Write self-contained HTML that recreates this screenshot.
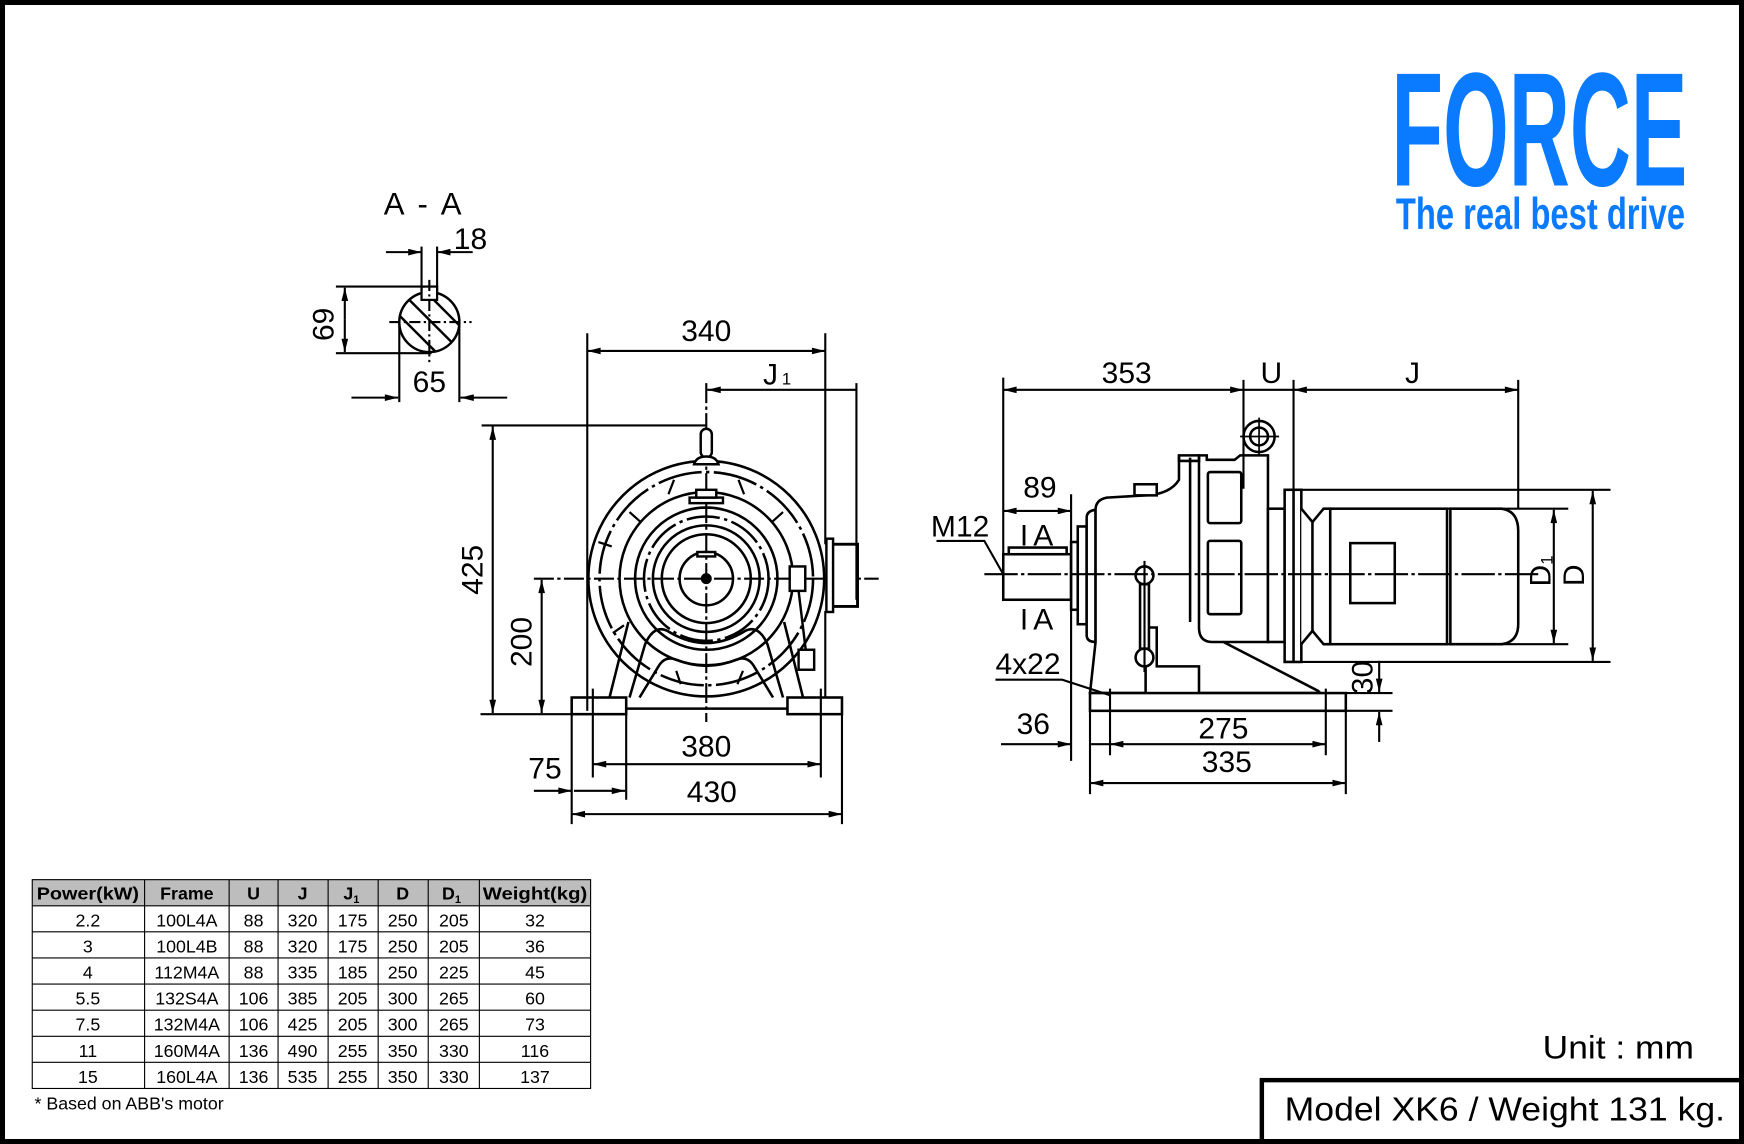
<!DOCTYPE html>
<html><head><meta charset="utf-8"><style>
html,body{margin:0;padding:0;background:#fff;}
svg{display:block;}
text{font-family:"Liberation Sans",Arial,sans-serif;fill:#000;}
</style></head><body>
<svg width="1744" height="1144" viewBox="0 0 1568 1030" preserveAspectRatio="none" xmlns="http://www.w3.org/2000/svg">
<defs>
<marker id="a" viewBox="0 0 12 6" refX="12" refY="3" markerWidth="13" markerHeight="6" markerUnits="userSpaceOnUse" orient="auto-start-reverse"><path d="M0,0 L12,3 L0,6 z" fill="#000"/></marker>
<clipPath id="cc"><circle cx="386" cy="290" r="27"/></clipPath>
</defs>
<rect x="0" y="0" width="1568" height="1030" fill="#fff"/>
<rect x="0" y="0" width="1568" height="1030" fill="none" stroke="#000" stroke-width="9"/>

<!-- Logo -->
<text x="1251" y="167" font-size="146" font-weight="bold" textLength="266" lengthAdjust="spacingAndGlyphs" style="fill:#0a7aff">FORCE</text>
<text x="1255" y="206" font-size="40" font-weight="bold" textLength="260" lengthAdjust="spacingAndGlyphs" style="fill:#0a7aff">The real best drive</text>

<g fill="none" stroke="#000" stroke-width="1.9">
<!-- A-A section -->
<circle cx="386" cy="290" r="27" stroke-width="2.2"/>
<g clip-path="url(#cc)" stroke-width="2.2">
<line x1="350" y1="275" x2="395" y2="320"/><line x1="360" y1="262" x2="410" y2="312"/><line x1="375" y1="255" x2="420" y2="300"/>
</g>
<rect x="379" y="258" width="14" height="12" fill="#fff" stroke-width="2"/>
<line x1="386" y1="252" x2="386" y2="326" stroke-dasharray="10,3,2,3"/>
<line x1="350" y1="290" x2="424" y2="290" stroke-dasharray="10,3,2,3"/>
<line x1="379" y1="222" x2="379" y2="262"/><line x1="393" y1="222" x2="393" y2="262"/>
<line x1="347" y1="227" x2="379" y2="227" marker-end="url(#a)"/><line x1="425" y1="227" x2="393" y2="227" marker-end="url(#a)"/>
<line x1="302" y1="258" x2="382" y2="258"/><line x1="302" y1="318" x2="388" y2="318"/>
<line x1="310" y1="288" x2="310" y2="259" marker-end="url(#a)"/><line x1="310" y1="288" x2="310" y2="317" marker-end="url(#a)"/>
<line x1="359" y1="292" x2="359" y2="362"/><line x1="413" y1="292" x2="413" y2="362"/>
<line x1="316" y1="358" x2="358" y2="358" marker-end="url(#a)"/><line x1="456" y1="358" x2="414" y2="358" marker-end="url(#a)"/>

<!-- Front view -->
<g stroke-width="2.3">
<circle cx="635" cy="521" r="106"/>
<circle cx="635" cy="521" r="96" stroke-dasharray="40,4,3,4"/>
<circle cx="635" cy="521" r="78"/>
<circle cx="635" cy="521" r="64"/>
<circle cx="635" cy="521" r="56" stroke-dasharray="30,4,3,4"/>
<circle cx="635" cy="521" r="48"/>
<circle cx="635" cy="521" r="40"/>
<circle cx="635" cy="521" r="24"/>
</g>
<circle cx="635" cy="521" r="4" fill="#000"/>
<line x1="480" y1="521" x2="790" y2="521" stroke-dasharray="18,3,3,3"/>
<line x1="635" y1="345" x2="635" y2="650" stroke-dasharray="18,3,3,3"/>
<g stroke-width="2">
<line x1="664" y1="432" x2="669" y2="445"/><line x1="606" y1="432" x2="601" y2="445"/>
<line x1="566" y1="461" x2="576" y2="470"/><line x1="704" y1="461" x2="694" y2="470"/>
<line x1="551" y1="570" x2="561" y2="563"/><line x1="612" y1="616" x2="608" y2="604"/><line x1="663" y1="616" x2="668" y2="604"/>
<line x1="538" y1="488" x2="550" y2="492"/>
</g>
<rect x="630" y="386" width="10" height="26" rx="5" fill="#fff" stroke-width="2.2"/>
<path d="M624,418 Q626,411 635,411 Q644,411 646,418 Z" fill="#fff" stroke-width="2.2"/>
<rect x="620" y="448" width="30" height="5" fill="#fff" stroke-width="2.2"/>
<rect x="626" y="441" width="18" height="7" fill="#fff" stroke-width="2.2"/>
<rect x="627" y="497" width="16" height="4" fill="#fff" stroke-width="2.2"/>
<g stroke-width="2.3" fill="none">
<path d="M548,628 L565,560"/><path d="M722,628 L705,560"/>
<path d="M566,628 L580,580 Q588,562 600,568 Q635,590 670,568 Q682,562 690,580 L704,628"/>
<path d="M575,628 L592,600 Q598,590 608,594 Q635,605 662,594 Q672,590 678,600 L695,628"/>
<line x1="563" y1="638" x2="708" y2="638"/>
</g>
<rect x="514" y="628" width="49" height="15" fill="#fff" stroke-width="2.3"/>
<rect x="708" y="628" width="49" height="15" fill="#fff" stroke-width="2.3"/>
<rect x="748" y="490" width="23" height="56" fill="#fff" stroke-width="2.6"/>
<rect x="743" y="485" width="6" height="66" fill="#fff" stroke-width="2.2"/>
<rect x="710" y="510" width="14" height="22" fill="#fff" stroke-width="2.2"/>
<line x1="718" y1="532" x2="725" y2="590" stroke-width="2.2"/>
<rect x="718" y="585" width="14" height="18" fill="#fff" stroke-width="2.2"/>
<!-- front dims -->
<line x1="528" y1="300" x2="528" y2="640"/><line x1="742" y1="300" x2="742" y2="490"/><line x1="742" y1="550" x2="742" y2="628"/>
<line x1="528" y1="316" x2="742" y2="316" marker-start="url(#a)" marker-end="url(#a)"/>
<line x1="770" y1="345" x2="770" y2="540"/>
<line x1="770" y1="351" x2="636" y2="351" marker-end="url(#a)"/>
<line x1="433" y1="383" x2="635" y2="383"/>
<line x1="443" y1="384" x2="443" y2="642" marker-start="url(#a)" marker-end="url(#a)"/>
<line x1="487" y1="522" x2="487" y2="642" marker-start="url(#a)" marker-end="url(#a)"/>
<line x1="432" y1="643" x2="514" y2="643"/>
<line x1="533" y1="620" x2="533" y2="700"/><line x1="738" y1="620" x2="738" y2="700"/>
<line x1="533" y1="688" x2="738" y2="688" marker-start="url(#a)" marker-end="url(#a)"/>
<line x1="514" y1="643" x2="514" y2="742"/><line x1="757" y1="643" x2="757" y2="742"/><line x1="563" y1="643" x2="563" y2="720"/>
<line x1="514" y1="733" x2="757" y2="733" marker-start="url(#a)" marker-end="url(#a)"/>
<line x1="480" y1="712" x2="514" y2="712" marker-end="url(#a)"/>
<line x1="516" y1="712" x2="562" y2="712" marker-end="url(#a)"/>

<!-- Side view -->
<g stroke-width="2.3">
<rect x="902" y="499" width="61" height="41" fill="#fff"/>
<rect x="907" y="493" width="52" height="6" fill="#fff"/>
<rect x="963" y="488" width="6" height="61" fill="#fff"/>
<rect x="969" y="474" width="8" height="88" fill="#fff"/>
<path d="M977,466 Q977,460 985,459 L985,578 Q977,578 977,572 Z" fill="#fff"/>
<path d="M985,459 Q985,450 995,448 L1030,446 Q1052,445 1060,432 L1060,410 L1078,410 L1078,565 Q1078,578 1090,578 L1100,578 L1185,622 L1187,624 L1078,624 L1078,600 L1040,600 L1040,565 L1030,565 L1030,624 L980,624 L985,578 Z" fill="#fff"/>
<rect x="1020" y="436" width="20" height="10" fill="#fff"/>
<path d="M1060,410 L1060,415 L1078,415 L1078,410 L1085,410 L1085,414 L1110,414 L1115,410 L1140,410 L1140,578 L1100,578"/>
<line x1="1070" y1="412" x2="1070" y2="560"/>
<rect x="1086" y="425" width="30" height="46" rx="2" fill="#fff"/>
<rect x="1086" y="487" width="30" height="66" rx="2" fill="#fff"/>
<circle cx="1132" cy="393" r="14" fill="#fff"/><circle cx="1132" cy="393" r="8" fill="#fff"/>
<line x1="1115" y1="393" x2="1150" y2="393" stroke-width="1.5"/><line x1="1132" y1="376" x2="1132" y2="410" stroke-width="1.5"/>
<rect x="1140" y="458" width="15" height="120" fill="#fff"/>
<rect x="1155" y="441" width="15" height="155" fill="#fff"/>
<line x1="1163" y1="441" x2="1163" y2="596"/>
<path d="M1170,458 L1180,470 L1180,568 L1170,580" fill="#fff"/>
<path d="M1180,470 L1190,458 L1196,458 L1196,580 L1190,580 L1180,568"/>
<rect x="1196" y="458" width="105" height="122" fill="#fff"/>
<path d="M1304,458 L1350,458 Q1365,460 1365,478 L1365,562 Q1365,578 1350,580 L1304,580 Z" fill="#fff"/>
<rect x="1214" y="489" width="40" height="54" fill="#fff"/>
<circle cx="1029" cy="518" r="8" fill="#fff"/><circle cx="1029" cy="592" r="8" fill="#fff"/>
<rect x="1025" y="526" width="8" height="58" fill="#fff"/>
<rect x="980" y="624" width="230" height="16" fill="#fff"/>
</g>
<line x1="885" y1="517" x2="1385" y2="517" stroke-dasharray="30,3,3,3"/>
<line x1="1029" y1="505" x2="1029" y2="605"/>
<!-- side dims -->
<line x1="902" y1="340" x2="902" y2="499"/>
<line x1="1118" y1="342" x2="1118" y2="440"/><line x1="1163" y1="342" x2="1163" y2="441"/>
<line x1="1365" y1="342" x2="1365" y2="458"/>
<line x1="902" y1="351" x2="1118" y2="351" marker-start="url(#a)" marker-end="url(#a)"/>
<line x1="1118" y1="351" x2="1165" y2="351"/>
<line x1="1163" y1="351" x2="1365" y2="351" marker-start="url(#a)" marker-end="url(#a)"/>
<line x1="902" y1="460" x2="963" y2="460" marker-start="url(#a)" marker-end="url(#a)"/>
<line x1="963" y1="445" x2="963" y2="685"/>
<polyline points="842,487 885,487 902,517"/>
<polyline points="895,612 955,612 998,626"/>
<line x1="1155" y1="441" x2="1448" y2="441"/><line x1="1155" y1="596" x2="1448" y2="596"/>
<line x1="1300" y1="458" x2="1410" y2="458"/><line x1="1300" y1="580" x2="1410" y2="580"/>
<line x1="1432" y1="442" x2="1432" y2="595" marker-start="url(#a)" marker-end="url(#a)"/>
<line x1="1397" y1="459" x2="1397" y2="579" marker-start="url(#a)" marker-end="url(#a)"/>
<line x1="1210" y1="624" x2="1252" y2="624"/><line x1="1210" y1="640" x2="1252" y2="640"/>
<line x1="1240" y1="595" x2="1240" y2="623" marker-end="url(#a)"/>
<line x1="1240" y1="668" x2="1240" y2="641" marker-end="url(#a)"/>
<line x1="998" y1="620" x2="998" y2="680"/><line x1="1192" y1="620" x2="1192" y2="680"/>
<line x1="980" y1="640" x2="980" y2="715"/><line x1="1210" y1="640" x2="1210" y2="715"/>
<line x1="998" y1="670" x2="1192" y2="670" marker-start="url(#a)" marker-end="url(#a)"/>
<line x1="980" y1="705" x2="1210" y2="705" marker-start="url(#a)" marker-end="url(#a)"/>
<line x1="900" y1="670" x2="963" y2="670" marker-end="url(#a)"/>
<line x1="998" y1="670" x2="981" y2="670"/>
</g>

<!-- labels -->
<g font-size="27">
<text x="345" y="193" font-size="28" textLength="70" lengthAdjust="spacing">A - A</text>
<text x="408" y="224">18</text>
<text x="300" y="292" transform="rotate(-90 300 292)" text-anchor="middle">69</text>
<text x="386" y="353" text-anchor="middle">65</text>
<text x="635" y="307" text-anchor="middle">340</text>
<text x="686" y="346">J</text><text x="703" y="346" font-size="15">1</text>
<text x="434" y="513" transform="rotate(-90 434 513)" text-anchor="middle">425</text>
<text x="478" y="578" transform="rotate(-90 478 578)" text-anchor="middle">200</text>
<text x="635" y="681" text-anchor="middle">380</text>
<text x="490" y="701" text-anchor="middle">75</text>
<text x="640" y="722" text-anchor="middle">430</text>
<text x="1013" y="345" text-anchor="middle">353</text>
<text x="1143" y="345" text-anchor="middle">U</text>
<text x="1270" y="345" text-anchor="middle">J</text>
<text x="935" y="448" text-anchor="middle">89</text>
<text x="837" y="483">M12</text>
<text x="917" y="491">I</text><text x="929" y="491">A</text>
<text x="917" y="567">I</text><text x="929" y="567">A</text>
<text x="895" y="607">4x22</text>
<text x="914" y="661">36</text>
<text x="1100" y="665" text-anchor="middle">275</text>
<text x="1103" y="695" text-anchor="middle">335</text>
<text x="1234" y="610" transform="rotate(-90 1234 610)" text-anchor="middle">30</text>
<text x="1424" y="518" transform="rotate(-90 1424 518)" text-anchor="middle">D</text>
<text x="1394" y="528" transform="rotate(-90 1394 528)">D<tspan font-size="15" dy="2">1</tspan></text>
</g>

<!-- table -->
<g font-size="16">
<rect x="29" y="792" width="502" height="23.5" fill="#bdbdbd"/>
<g stroke="#000" stroke-width="1" fill="none">
<rect x="29" y="792" width="502" height="188"/>
<line x1="29" y1="815.5" x2="531" y2="815.5"/><line x1="29" y1="839" x2="531" y2="839"/><line x1="29" y1="862.5" x2="531" y2="862.5"/><line x1="29" y1="886" x2="531" y2="886"/><line x1="29" y1="909.5" x2="531" y2="909.5"/><line x1="29" y1="933" x2="531" y2="933"/><line x1="29" y1="956.5" x2="531" y2="956.5"/>
<line x1="130" y1="792" x2="130" y2="980"/><line x1="206" y1="792" x2="206" y2="980"/><line x1="250" y1="792" x2="250" y2="980"/><line x1="295" y1="792" x2="295" y2="980"/><line x1="340" y1="792" x2="340" y2="980"/><line x1="385" y1="792" x2="385" y2="980"/><line x1="431" y1="792" x2="431" y2="980"/>
</g>
<g font-weight="bold" text-anchor="middle">
<text x="79" y="810" textLength="92" lengthAdjust="spacingAndGlyphs">Power(kW)</text><text x="168" y="810">Frame</text><text x="228" y="810">U</text><text x="272" y="810">J</text><text x="316" y="810">J<tspan font-size="10" dy="3">1</tspan></text><text x="362" y="810">D</text><text x="406" y="810">D<tspan font-size="10" dy="3">1</tspan></text><text x="481" y="810" textLength="94" lengthAdjust="spacingAndGlyphs">Weight(kg)</text>
</g>
<g text-anchor="middle">
<text x="79" y="834">2.2</text><text x="168" y="834">100L4A</text><text x="228" y="834">88</text><text x="272" y="834">320</text><text x="317" y="834">175</text><text x="362" y="834">250</text><text x="408" y="834">205</text><text x="481" y="834">32</text>
<text x="79" y="857.5">3</text><text x="168" y="857.5">100L4B</text><text x="228" y="857.5">88</text><text x="272" y="857.5">320</text><text x="317" y="857.5">175</text><text x="362" y="857.5">250</text><text x="408" y="857.5">205</text><text x="481" y="857.5">36</text>
<text x="79" y="881">4</text><text x="168" y="881">112M4A</text><text x="228" y="881">88</text><text x="272" y="881">335</text><text x="317" y="881">185</text><text x="362" y="881">250</text><text x="408" y="881">225</text><text x="481" y="881">45</text>
<text x="79" y="904.5">5.5</text><text x="168" y="904.5">132S4A</text><text x="228" y="904.5">106</text><text x="272" y="904.5">385</text><text x="317" y="904.5">205</text><text x="362" y="904.5">300</text><text x="408" y="904.5">265</text><text x="481" y="904.5">60</text>
<text x="79" y="928">7.5</text><text x="168" y="928">132M4A</text><text x="228" y="928">106</text><text x="272" y="928">425</text><text x="317" y="928">205</text><text x="362" y="928">300</text><text x="408" y="928">265</text><text x="481" y="928">73</text>
<text x="79" y="951.5">11</text><text x="168" y="951.5">160M4A</text><text x="228" y="951.5">136</text><text x="272" y="951.5">490</text><text x="317" y="951.5">255</text><text x="362" y="951.5">350</text><text x="408" y="951.5">330</text><text x="481" y="951.5">116</text>
<text x="79" y="975">15</text><text x="168" y="975">160L4A</text><text x="228" y="975">136</text><text x="272" y="975">535</text><text x="317" y="975">255</text><text x="362" y="975">350</text><text x="408" y="975">330</text><text x="481" y="975">137</text>
</g>
<text x="31" y="999" font-size="16">* Based on ABB's motor</text>
</g>

<text x="1387" y="953" font-size="29" textLength="136" lengthAdjust="spacingAndGlyphs">Unit : mm</text>
<rect x="1134.5" y="972.5" width="440" height="60" fill="none" stroke="#000" stroke-width="4"/>
<text x="1155" y="1009" font-size="30" textLength="396" lengthAdjust="spacingAndGlyphs">Model XK6 / Weight 131 kg.</text>
</svg>
</body></html>
